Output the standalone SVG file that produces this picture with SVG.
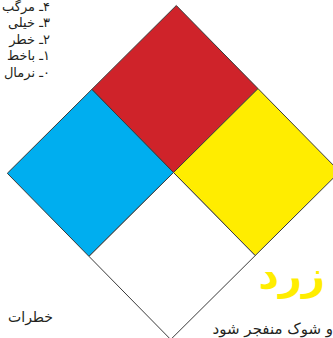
<svg xmlns="http://www.w3.org/2000/svg" width="333" height="338" viewBox="0 0 333 338">
<style>
.sq{stroke:#3a3a3a;stroke-width:1;stroke-linejoin:miter}
.t{font-family:"DejaVu Sans",sans-serif;fill:#231f20}
.lv{font-size:13px}
</style>
<rect width="333" height="338" fill="#ffffff"/>
<g id="legend" direction="rtl">
<text class="t lv" x="50" y="11" direction="rtl" text-anchor="start">۴ـ مرگب</text>
<text class="t lv" x="50" y="27" direction="rtl" text-anchor="start">۳ـ خیلی</text>
<text class="t lv" x="50" y="44" direction="rtl" text-anchor="start">۲ـ خطر</text>
<text class="t lv" x="50" y="60" direction="rtl" text-anchor="start">۱ـ باخط</text>
<text class="t lv" x="50" y="77" direction="rtl" text-anchor="start">۰ـ نرمال</text>
</g>
<g id="red"><polygon class="sq" fill="#cf232a" points="176.3,5.5 258,88.6 173.5,172.5 91.8,89.4"/></g>
<g id="yellow"><polygon class="sq" fill="#ffed00" points="258,88.6 339.7,171.7 255.2,255.6 173.5,172.5"/></g>
<g id="blue"><polygon class="sq" fill="#00aeef" points="91.8,89.4 173.5,172.5 89,256.4 7.3,173.3"/></g>
<g id="white"><polygon class="sq" fill="#ffffff" points="173.5,172.5 255.2,255.6 170.7,339.5 89,256.4"/></g>
<g id="labels">
<text x="325" y="289" direction="rtl" text-anchor="start" font-family="DejaVu Sans, sans-serif" font-weight="bold" font-size="40" fill="#ffed00">زرد</text>
<text class="t" x="333" y="334" font-size="15" direction="rtl" text-anchor="start">و شوک منفجر شود</text>
<text class="t" x="53" y="322" font-size="14" direction="rtl" text-anchor="start">خطرات</text>
</g>
</svg>
